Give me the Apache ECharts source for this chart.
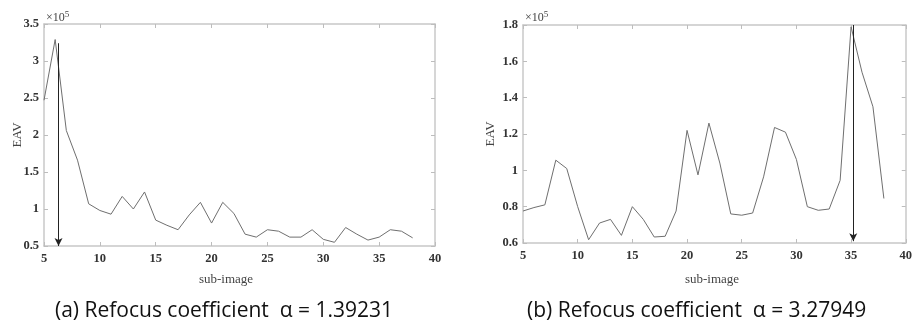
<!DOCTYPE html>
<html>
<head>
<meta charset="utf-8">
<script src="https://cdn.jsdelivr.net/npm/echarts@6/dist/echarts.min.js"></script>
<style>
  html, body { margin: 0; padding: 0; background: #fff; }
  #chart { width: 915px; height: 325px; }
</style>
</head>
<body>
<div id="chart"></div>
<script>
// sub-image index 5..38
const subImages = [5,6,7,8,9,10,11,12,13,14,15,16,17,18,19,20,21,22,23,24,25,26,27,28,29,30,31,32,33,34,35,36,37,38];

// EAV values in units of 1e5
const eavA = [2.47,3.29,2.06,1.66,1.07,0.98,0.93,1.17,1.00,1.23,0.85,0.78,0.72,0.92,1.09,0.81,1.09,0.94,0.66,0.62,0.72,0.70,0.62,0.62,0.72,0.59,0.55,0.75,0.66,0.58,0.62,0.72,0.70,0.61];
const eavB = [0.776,0.795,0.81,1.056,1.01,0.80,0.618,0.71,0.73,0.642,0.80,0.73,0.633,0.637,0.776,1.22,0.975,1.26,1.04,0.76,0.753,0.765,0.964,1.236,1.21,1.06,0.80,0.78,0.787,0.945,1.79,1.54,1.35,0.845];

// arrow markers [x, yTop, yBottom]
const arrowA = [6.3, 3.24, 0.5];
const arrowB = [35.2, 1.8, 0.61];

const xName = 'sub-image';
const yName = 'EAV';
const captionA = '(a) Refocus coefficient  α = 1.39231';
const captionB = '(b) Refocus coefficient  α = 3.27949';

const serif = '"Liberation Serif", "DejaVu Serif", serif';
const sans = '"Open Sans", "Noto Sans", sans-serif';
const frameColor = '#c8c8c8';
const tickColor = '#bdbdbd';
const labelColor = '#333';

function pairs(xs, ys) {
    return xs.map((x, i) => [x, ys[i]]);
}

function xAxes(gridIndex) {
    return [
        {
            gridIndex: gridIndex, type: 'value', min: 5, max: 40, interval: 5, position: 'bottom',
            axisLine: { show: true, lineStyle: { color: frameColor, width: 1.5 } },
            axisTick: { show: true, inside: true, length: 4, lineStyle: { color: tickColor } },
            axisLabel: { fontFamily: serif, fontSize: 12.5, fontWeight: 'bold', color: labelColor, margin: 6 },
            splitLine: { show: false }
        },
        {
            gridIndex: gridIndex, type: 'value', min: 5, max: 40, interval: 5, position: 'top',
            axisLine: { show: true, lineStyle: { color: frameColor, width: 1.5 } },
            axisTick: { show: true, inside: true, length: 4, lineStyle: { color: tickColor } },
            axisLabel: { show: false },
            splitLine: { show: false }
        }
    ];
}

function yAxes(gridIndex, min, max, interval, nameGap) {
    return [
        {
            gridIndex: gridIndex, type: 'value', min: min, max: max, interval: interval, position: 'left',
            name: yName, nameLocation: 'middle', nameGap: nameGap, nameMoveOverlap: false,
            nameTextStyle: { fontFamily: serif, fontSize: 13, color: '#444' },
            axisLine: { show: true, lineStyle: { color: frameColor, width: 1.5 } },
            axisTick: { show: true, inside: true, length: 4, lineStyle: { color: tickColor } },
            axisLabel: {
                fontFamily: serif, fontSize: 12.5, fontWeight: 'bold', color: labelColor, margin: 5,
                formatter: v => String(+v.toFixed(1))
            },
            splitLine: { show: false }
        },
        {
            gridIndex: gridIndex, type: 'value', min: min, max: max, interval: interval, position: 'right',
            axisLine: { show: true, lineStyle: { color: frameColor, width: 1.5 } },
            axisTick: { show: true, inside: true, length: 4, lineStyle: { color: tickColor } },
            axisLabel: { show: false },
            splitLine: { show: false }
        }
    ];
}

function lineSeries(xIdx, yIdx, data, arrow) {
    return {
        type: 'line',
        xAxisIndex: xIdx,
        yAxisIndex: yIdx,
        data: data,
        showSymbol: false,
        silent: true,
        lineStyle: { color: '#6f6f6f', width: 1 },
        markLine: {
            silent: true,
            symbol: ['none', 'arrow'],
            symbolSize: [6, 8],
            label: { show: false },
            lineStyle: { color: '#222', width: 1, type: 'solid' },
            data: [[
                { coord: [arrow[0], arrow[1]] },
                { coord: [arrow[0], arrow[2]] }
            ]]
        }
    };
}

function expText(left) {
    return {
        type: 'text', left: left, top: 10,
        style: {
            text: '×10{s|5}', fontFamily: serif, fontSize: 12, fill: '#444',
            rich: { s: { fontFamily: serif, fontSize: 9, fill: '#444', verticalAlign: 'top', padding: [0, 0, 7, 0] } }
        }
    };
}

function nameText(cx) {
    return {
        type: 'text', x: cx, y: 280,
        style: { text: xName, fontFamily: serif, fontSize: 13, fill: '#444', align: 'center', verticalAlign: 'middle' }
    };
}

function captionText(left, text) {
    return {
        type: 'text', x: left, y: 311,
        style: { text: text, fontFamily: sans, fontSize: 21, fill: '#111', align: 'left', verticalAlign: 'middle' }
    };
}

const chart = echarts.init(document.getElementById('chart'), null, { renderer: 'canvas' });

chart.setOption({
    backgroundColor: '#fff',
    animation: false,
    grid: [
        { left: 44, top: 24, width: 391, height: 222 },
        { left: 523, top: 25, width: 385, height: 218 }
    ],
    xAxis: [].concat(xAxes(0), xAxes(1)),
    yAxis: [].concat(yAxes(0, 0.5, 3.5, 0.5, 20), yAxes(1, 0.6, 1.8, 0.2, 26)),
    series: [
        lineSeries(0, 0, pairs(subImages, eavA), arrowA),
        lineSeries(2, 2, pairs(subImages, eavB), arrowB)
    ],
    graphic: [
        expText(46),
        expText(525),
        nameText(226),
        nameText(712),
        captionText(55, captionA),
        captionText(527, captionB)
    ]
});
</script>
</body>
</html>
